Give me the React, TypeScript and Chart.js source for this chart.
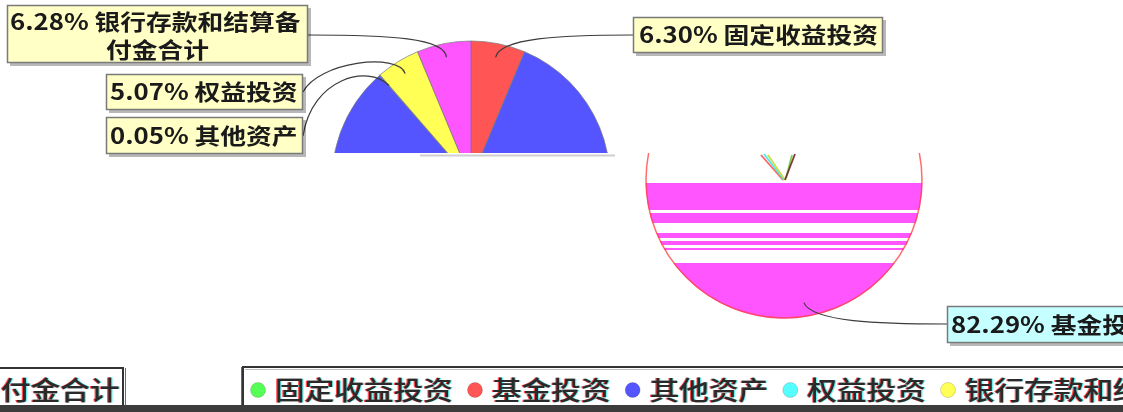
import React, { useEffect, useRef } from "react";
import { Chart, registerables } from "chart.js";

Chart.register(...registerables);

// ---- data ----
const categories = ["固定收益投资", "基金投资", "其他资产", "权益投资", "银行存款和结算备付金合计"];
const shares = [6.3, 82.29, 0.05, 5.07, 6.28];
const shareLabels = ["6.30%", "82.29%", "0.05%", "5.07%", "6.28%"];
const legendColors = ["#55ff55", "#ff5555", "#5555ff", "#55ffff", "#ffff55"];
const sliceColors = ["#ff5555", "#5555ff", "#55ffff", "#ffff55", "#ff55ff"];

// ---- layout / style ----
const W = 1123;
const H = 412;
const CLIP_Y = 153;
const LABEL_FONT = 'bold 22px "Noto Sans CJK SC", "Noto Sans", sans-serif';
const LEGEND_FONT = '500 26px "Noto Sans CJK SC", "Noto Sans", sans-serif';
const STRIPE_MAGENTA = "#ff55ff";
const whiteBands: [number, number][] = [
  [153, 183],
  [210, 213],
  [223, 233],
  [238, 241],
  [245, 248],
  [250, 263],
];

const labelText = (i: number) => `${shareLabels[i]} ${categories[i]}`;

type Pt = [number, number];
interface TopBox {
  i: number;
  box: [number, number, number, number];
  attach: Pt;
  c1: Pt;
  c2: Pt;
  fill: string;
}

const topBoxes: TopBox[] = [
  { i: 0, box: [633, 17, 250, 36], attach: [633, 35], c1: [560, 35], c2: [500, 38], fill: "#ffffc6" },
  { i: 4, box: [7, 5, 301, 58], attach: [308, 35], c1: [390, 35], c2: [445, 38], fill: "#ffffc6" },
  { i: 3, box: [106, 74, 197, 36], attach: [303, 92], c1: [318, 62], c2: [398, 52], fill: "#ffffc6" },
  { i: 2, box: [106, 117, 197, 37], attach: [303, 136], c1: [312, 78], c2: [368, 64], fill: "#ffffc6" },
];

function anchorOf(arc: any) {
  const p = arc.getProps(["x", "y", "startAngle", "endAngle", "outerRadius"], true);
  const mid = (p.startAngle + p.endAngle) / 2;
  const r = p.outerRadius * 0.9;
  return { x: p.x + Math.cos(mid) * r, y: p.y + Math.sin(mid) * r, cx: p.x, cy: p.y, R: p.outerRadius };
}

function drawBox(ctx: CanvasRenderingContext2D, b: [number, number, number, number], fill: string) {
  const [x, y, w, h] = b;
  ctx.fillStyle = "rgba(0,0,0,0.28)";
  ctx.fillRect(x + 3, y + 3, w, h);
  ctx.fillStyle = fill;
  ctx.fillRect(x, y, w, h);
  ctx.strokeStyle = "#7a7a7a";
  ctx.lineWidth = 1.5;
  ctx.strokeRect(x + 0.5, y + 0.5, w - 1, h - 1);
}

function scaledText(
  ctx: CanvasRenderingContext2D,
  text: string,
  x: number,
  y: number,
  sx: number,
  font: string,
  color: string
) {
  ctx.save();
  ctx.font = font;
  ctx.fillStyle = color;
  ctx.textBaseline = "middle";
  ctx.textAlign = "left";
  ctx.translate(x, y);
  ctx.scale(sx, 1);
  ctx.fillText(text, 0, 0);
  ctx.restore();
}

function chromaText(ctx: CanvasRenderingContext2D, text: string, x: number, y: number, sx: number) {
  scaledText(ctx, text, x - 1.2, y, sx, LEGEND_FONT, "rgba(255,0,0,0.7)");
  scaledText(ctx, text, x + 1.2, y, sx, LEGEND_FONT, "rgba(0,230,230,0.6)");
  scaledText(ctx, text, x, y, sx, LEGEND_FONT, "#2a2a2a");
}

function stripeGradient(chart: any) {
  const ctx: CanvasRenderingContext2D = chart.ctx;
  const y0 = CLIP_Y;
  const y1 = 320;
  const g = ctx.createLinearGradient(0, y0, 0, y1);
  const off = (y: number) => Math.min(1, Math.max(0, (y - y0) / (y1 - y0)));
  let prev = y0;
  for (const [a, b] of whiteBands) {
    if (a > prev) {
      g.addColorStop(off(prev), STRIPE_MAGENTA);
      g.addColorStop(off(a), STRIPE_MAGENTA);
    }
    g.addColorStop(off(a), "#ffffff");
    g.addColorStop(off(b), "#ffffff");
    prev = b;
  }
  g.addColorStop(off(prev), STRIPE_MAGENTA);
  g.addColorStop(1, STRIPE_MAGENTA);
  return g;
}

const clipPlugin = (id: string, x: number, y: number, w: number, h: number) => ({
  id,
  beforeDatasetsDraw(chart: any) {
    const c = chart.ctx;
    c.save();
    c.beginPath();
    c.rect(x, y, w, h);
    c.clip();
  },
  afterDatasetsDraw(chart: any) {
    chart.ctx.restore();
  },
});

const decorA = {
  id: "decorA",
  afterDraw(chart: any) {
    const ctx: CanvasRenderingContext2D = chart.ctx;
    const meta = chart.getDatasetMeta(0);
    ctx.save();
    // faint shadow line under the cut pie
    ctx.strokeStyle = "#cfcfcf";
    ctx.lineWidth = 2;
    ctx.beginPath();
    ctx.moveTo(420, 155.5);
    ctx.lineTo(615, 155.5);
    ctx.stroke();

    ctx.font = LABEL_FONT;
    const sx = 239 / ctx.measureText(labelText(0)).width;

    for (const b of topBoxes) {
      const p = anchorOf(meta.data[b.i]);
      ctx.strokeStyle = "#3c3c3c";
      ctx.lineWidth = 1.2;
      ctx.beginPath();
      ctx.moveTo(b.attach[0], b.attach[1]);
      ctx.bezierCurveTo(b.c1[0], b.c1[1], b.c2[0], b.c2[1], p.x, p.y);
      ctx.stroke();
      drawBox(ctx, b.box, b.fill);
      const [bx, by, bw, bh] = b.box;
      if (b.i === 4) {
        const l1 = `${shareLabels[4]} ${categories[4].slice(0, 8)}`;
        const l2 = categories[4].slice(8);
        scaledText(ctx, l1, bx + 3, by + 17, sx, LABEL_FONT, "#1a1a1a");
        ctx.font = LABEL_FONT;
        const w2 = ctx.measureText(l2).width * sx;
        scaledText(ctx, l2, bx + bw / 2 - w2 / 2, by + 45, sx, LABEL_FONT, "#1a1a1a");
      } else {
        scaledText(ctx, labelText(b.i), bx + (b.i === 0 ? 6 : 4), by + bh / 2, sx, LABEL_FONT, "#1a1a1a");
      }
    }
    ctx.restore();
  },
};

const decorB = {
  id: "decorB",
  afterDraw(chart: any) {
    const ctx: CanvasRenderingContext2D = chart.ctx;
    const meta = chart.getDatasetMeta(0);
    const fund = anchorOf(meta.data[1]);
    ctx.save();

    // pinkish outline of the lower disc
    ctx.save();
    ctx.beginPath();
    ctx.rect(0, CLIP_Y, W, H - CLIP_Y);
    ctx.clip();
    ctx.strokeStyle = "rgba(255,60,60,0.75)";
    ctx.lineWidth = 1.5;
    ctx.beginPath();
    ctx.arc(fund.cx, fund.cy, fund.R, 0, Math.PI * 2);
    ctx.stroke();
    ctx.restore();

    // small V of leader-line remnants at the centre
    const vLines: [string, number, number, number, number][] = [
      ["rgba(255,80,80,0.9)", -1, 0, -23, -25],
      ["rgba(60,230,230,0.9)", 0, 0, -20, -26],
      ["rgba(200,220,60,0.95)", 1, 0, -16, -25],
      ["rgba(120,200,60,0.9)", 2, -2, 8, -25],
      ["rgba(110,40,40,0.9)", 1, 0, 11, -26],
    ];
    ctx.lineWidth = 1.8;
    for (const [c, x0, y0, x1, y1] of vLines) {
      ctx.strokeStyle = c;
      ctx.beginPath();
      ctx.moveTo(fund.cx + x0, fund.cy + y0);
      ctx.lineTo(fund.cx + x1, fund.cy + y1);
      ctx.stroke();
    }

    // fund label
    ctx.strokeStyle = "#3c3c3c";
    ctx.lineWidth = 1.2;
    ctx.beginPath();
    ctx.moveTo(947, 324);
    ctx.bezierCurveTo(880, 324, 812, 322, fund.x, fund.y);
    ctx.stroke();
    drawBox(ctx, [947, 306, 250, 37], "#c6ffff");
    ctx.font = LABEL_FONT;
    const sx = 239 / ctx.measureText(labelText(0)).width;
    scaledText(ctx, labelText(1), 951, 325, sx, LABEL_FONT, "#1a1a1a");

    // left fragment box
    ctx.font = LEGEND_FONT;
    const lsx = 178 / ctx.measureText(categories[0]).width;
    ctx.strokeStyle = "#333";
    ctx.lineWidth = 2;
    ctx.beginPath();
    ctx.moveTo(-2, 368);
    ctx.lineTo(123, 368);
    ctx.lineTo(123, 406);
    ctx.stroke();
    ctx.strokeStyle = "rgba(230,0,0,0.8)";
    ctx.lineWidth = 1;
    ctx.beginPath();
    ctx.moveTo(125.5, 368);
    ctx.lineTo(125.5, 406);
    ctx.stroke();
    chromaText(ctx, categories[4].slice(-4), 1, 390, lsx);

    // legend box
    ctx.strokeStyle = "#333";
    ctx.lineWidth = 2;
    ctx.beginPath();
    ctx.moveTo(243, 406);
    ctx.lineTo(243, 367);
    ctx.lineTo(W + 2, 367);
    ctx.stroke();
    ctx.strokeStyle = "#bdbdbd";
    ctx.lineWidth = 1;
    ctx.beginPath();
    ctx.moveTo(245, 369.5);
    ctx.lineTo(W, 369.5);
    ctx.stroke();
    ctx.strokeStyle = "rgba(230,0,0,0.8)";
    ctx.beginPath();
    ctx.moveTo(241.5, 367);
    ctx.lineTo(241.5, 406);
    ctx.stroke();

    let cx = 258;
    for (let i = 0; i < categories.length; i++) {
      ctx.beginPath();
      ctx.arc(cx, 390, 7.5, 0, Math.PI * 2);
      ctx.fillStyle = legendColors[i];
      ctx.fill();
      ctx.strokeStyle = "rgba(0,0,0,0.15)";
      ctx.lineWidth = 1;
      ctx.stroke();
      const tx = cx + 17;
      chromaText(ctx, categories[i], tx, 390, lsx);
      ctx.font = LEGEND_FONT;
      cx = tx + ctx.measureText(categories[i]).width * lsx + 22;
    }

    // dark band at the bottom
    ctx.fillStyle = "#3c3c3c";
    ctx.fillRect(0, 405, W, H - 405);
    ctx.restore();
  },
};

export default function App() {
  const refA = useRef<HTMLCanvasElement>(null);
  const refB = useRef<HTMLCanvasElement>(null);

  useEffect(() => {
    const a = new Chart(refA.current as HTMLCanvasElement, {
      type: "pie",
      data: {
        labels: categories,
        datasets: [
          {
            data: shares,
            backgroundColor: sliceColors,
            borderColor: "rgba(120,120,120,0.7)",
            borderWidth: 1,
            radius: 139,
          } as any,
        ],
      },
      options: {
        animation: false,
        responsive: false,
        events: [],
        layout: { padding: { left: 331, right: W - 611, top: 40, bottom: H - 320 } },
        plugins: { legend: { display: false }, tooltip: { enabled: false } },
      },
      plugins: [clipPlugin("clipA", 0, 0, W, CLIP_Y), decorA],
    });

    const b = new Chart(refB.current as HTMLCanvasElement, {
      type: "pie",
      data: {
        labels: categories,
        datasets: [
          {
            data: shares,
            backgroundColor: (c: any) => stripeGradient(c.chart),
            borderColor: (c: any) => stripeGradient(c.chart),
            borderWidth: 1,
            radius: 138,
          } as any,
        ],
      },
      options: {
        animation: false,
        responsive: false,
        events: [],
        layout: { padding: { left: 644, right: W - 924, top: 40, bottom: H - 320 } },
        plugins: { legend: { display: false }, tooltip: { enabled: false } },
      },
      plugins: [clipPlugin("clipB", 0, CLIP_Y, W, H - CLIP_Y), decorB],
    });

    return () => {
      a.destroy();
      b.destroy();
    };
  }, []);

  const cs: React.CSSProperties = { position: "absolute", left: 0, top: 0, width: W, height: H };
  return (
    <div style={{ position: "absolute", left: 0, top: 0, width: W, height: H, background: "#fff", overflow: "hidden" }}>
      <canvas ref={refA} width={W} height={H} style={cs} />
      <canvas ref={refB} width={W} height={H} style={cs} />
    </div>
  );
}
